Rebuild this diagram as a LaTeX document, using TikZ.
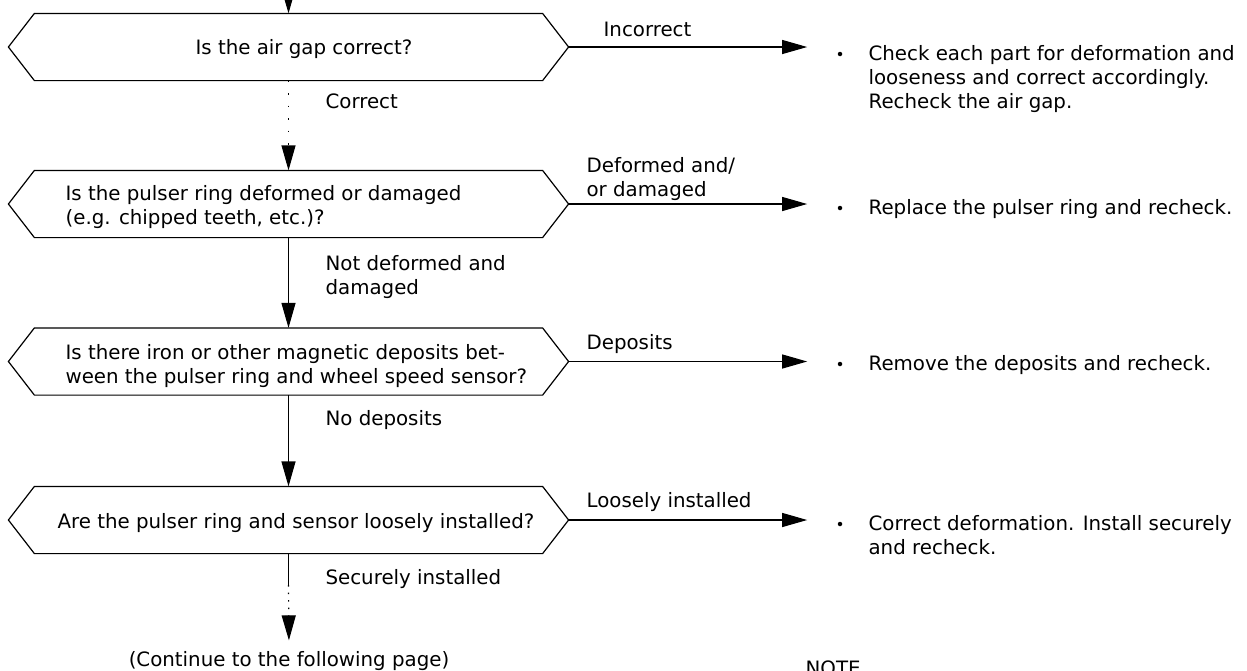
\documentclass[tikz,border=0pt]{standalone}
\usepackage{fontspec}
\setmainfont{DejaVu Sans}
\usetikzlibrary{arrows.meta,calc}
\begin{document}
\begin{tikzpicture}[x=1pt,y=-1pt,
  font=\fontsize{19.8pt}{24pt}\selectfont,
  line width=1.2pt,
  hexnode/.style={minimum width=559pt, minimum height=66pt, inner sep=0pt},
  hexline/.style={draw=black, line width=1.2pt, line join=miter},
  txt/.style={inner sep=0pt, align=left},
  conn/.style={draw=black, -{Triangle[length=25pt,width=14pt]}},
  plainline/.style={draw=black},
  dotline/.style={draw=black, dash pattern=on 1.5pt off 11pt},
  bul/.style={circle, fill=black, inner sep=0pt, minimum size=4.5pt}]
\useasboundingbox (0,0) rectangle (1247,670);
\clip (0,0) rectangle (1247,670);

% decision boxes
\node[hexnode] (h1) at (288.5,47) {};
\node[hexnode] (h2) at (288.5,204) {};
\node[hexnode] (h3) at (288.5,361.5) {};
\node[hexnode] (h4) at (288.5,520) {};
\foreach \n in {h1,h2,h3,h4}
  \draw[hexline] (\n.west) -- ([xshift=26pt]\n.north west) -- ([xshift=-26pt]\n.north east)
     -- (\n.east) -- ([xshift=-26pt]\n.south east) -- ([xshift=26pt]\n.south west) -- cycle;

% questions
\node[txt, anchor=base west] (q1) at (195,54) {Is the air gap correct?};
\node[txt, anchor=north west] (q2) at (65,185) {Is the pulser ring deformed or damaged\\(e.g. chipped teeth, etc.)?};
\node[txt, anchor=north west] (q3) at (65,344) {Is there iron or other magnetic deposits bet-\\ween the pulser ring and wheel speed sensor?};
\node[txt, anchor=base west] (q4) at (57,528) {Are the pulser ring and sensor loosely installed?};

% labels below
\node[txt, anchor=base west] (l1) at (325,108) {Correct};
\node[txt, anchor=north west] (l2) at (325,255) {Not deformed and\\damaged};
\node[txt, anchor=base west] (l3) at (325,425) {No deposits};
\node[txt, anchor=base west] (l4) at (325,584) {Securely installed};

% labels right
\node[txt, anchor=base west] (r1) at (603,36) {Incorrect};
\node[txt, anchor=north west] (r2) at (586,157) {Deformed and/\\or damaged};
\node[txt, anchor=base west] (r3) at (586,349) {Deposits};
\node[txt, anchor=base west] (r4) at (586,507) {Loosely installed};

% bullets and remedies
\node[bul] (b1) at (840,54) {};
\node[bul] (b2) at (840,208) {};
\node[bul] (b3) at (840,364) {};
\node[bul] (b4) at (840,524) {};
\node[txt, anchor=north west] (a1) at (868,45) {Check each part for deformation and\\looseness and correct accordingly.\\Recheck the air gap.};
\node[txt, anchor=base west] (a2) at (868,214) {Replace the pulser ring and recheck.};
\node[txt, anchor=base west] (a3) at (868,370) {Remove the deposits and recheck.};
\node[txt, anchor=north west] (a4) at (868,515) {Correct deformation. Install securely\\and recheck.};

% continuation and note
\node[txt, anchor=base] (ct) at (289,666) {(Continue to the following page)};
\node[txt, anchor=base west] (nt) at (805,675) {NOTE};

% vertical connectors
\coordinate (in) at (288.5,-30);
\coordinate (d4) at (288.5,585);
\draw[conn] (in) -- (h1.north);
\draw[conn, dash pattern=on 1.5pt off 11pt] (h1.south) -- (h2.north);
\draw[conn] (h2.south) -- (h3.north);
\draw[conn] (h3.south) -- (h4.north);
\draw[plainline] (h4.south) -- (d4);
\draw[conn, dash pattern=on 1.5pt off 6pt, shorten >=10pt] (d4) -- (ct.north);

% horizontal connectors
\draw[conn, shorten >=30pt] (h1.east) -- (h1.east -| b1.west);
\draw[conn, shorten >=30pt] (h2.east) -- (h2.east -| b2.west);
\draw[conn, shorten >=30pt] (h3.east) -- (h3.east -| b3.west);
\draw[conn, shorten >=30pt] (h4.east) -- (h4.east -| b4.west);
\end{tikzpicture}
\end{document}
